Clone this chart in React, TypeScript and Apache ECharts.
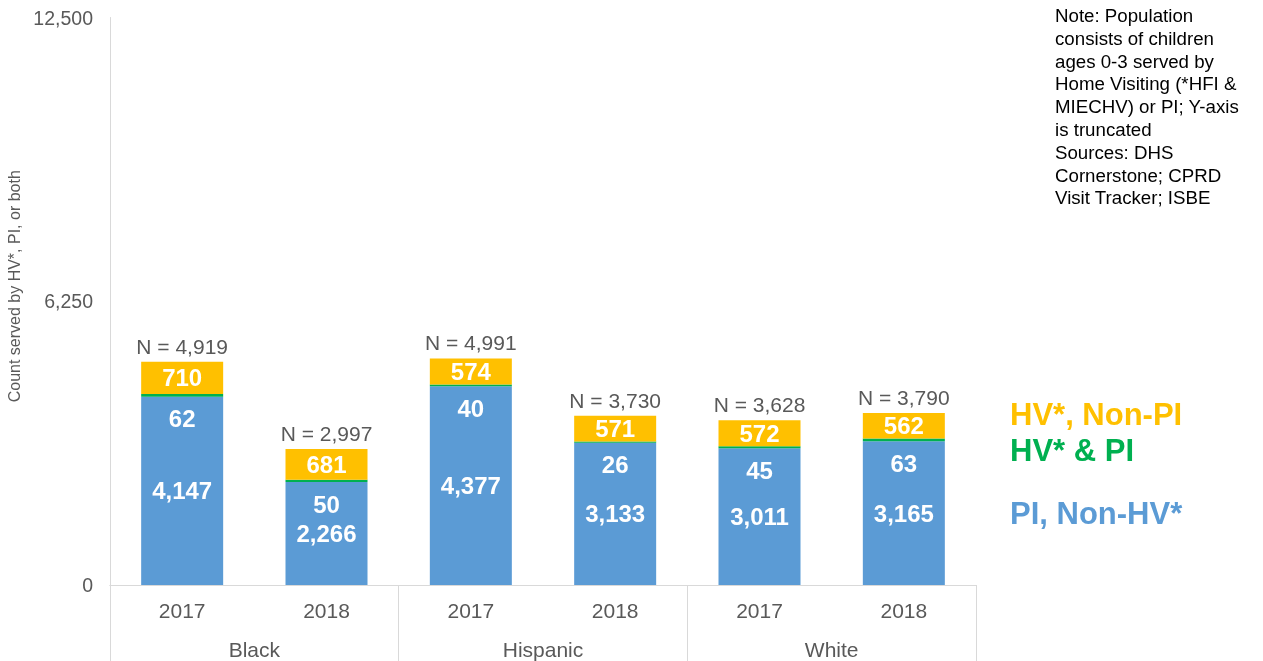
import React, { useEffect, useRef } from "react";
import * as echarts from "echarts";

const years = ["2017", "2018", "2017", "2018", "2017", "2018"];
const groups = ["Black", "Hispanic", "White"];
const piNonHV = [4147, 2266, 4377, 3133, 3011, 3165];
const hvAndPI = [62, 50, 40, 26, 45, 63];
const hvNonPI = [710, 681, 574, 571, 572, 562];
const totals = [4919, 2997, 4991, 3730, 3628, 3790];
const yTicks = [0, 6250, 12500];
const seriesNames = ["PI, Non-HV*", "HV* & PI", "HV*, Non-PI"];
const noteText =
  "Note: Population\nconsists of children\nages 0-3 served by\nHome Visiting (*HFI &\nMIECHV) or PI; Y-axis\nis truncated\nSources: DHS\nCornerstone; CPRD\nVisit Tracker; ISBE";

const FONT = "'Liberation Sans', Arial, sans-serif";
const BLUE = "#5B9BD5";
const GREEN = "#00B050";
const YELLOW = "#FFC000";
const GRAY = "#595959";
const LINE = "#D9D9D9";

const fmt = (v: number) => v.toLocaleString("en-US");

export default function App() {
  const ref = useRef<HTMLDivElement>(null);
  useEffect(() => {
    if (!ref.current) return;
    const chart = echarts.init(ref.current, undefined, { renderer: "svg" });
    const whiteLabel = {
      show: true,
      color: "#fff",
      fontWeight: "bold" as const,
      fontSize: 24,
      fontFamily: FONT,
      formatter: (p: any) => fmt(p.value),
    };
    chart.setOption({
      animation: false,
      textStyle: { fontFamily: FONT },
      grid: {
        left: 110,
        right: 287,
        top: 17.5,
        bottom: 76,
        containLabel: false,
        outerBoundsMode: "none",
      },
      xAxis: [
        {
          type: "category",
          data: years,
          position: "bottom",
          axisLine: { show: true, lineStyle: { color: LINE, width: 1 } },
          axisTick: { show: false },
          axisLabel: { color: GRAY, fontSize: 21, margin: 15, fontFamily: FONT },
        },
        {
          type: "category",
          data: groups,
          position: "bottom",
          axisLine: { show: true, lineStyle: { color: LINE, width: 1 } },
          axisTick: { show: true, length: 80, lineStyle: { color: LINE, width: 1 } },
          axisLabel: { color: GRAY, fontSize: 21, margin: 54, fontFamily: FONT },
        },
      ],
      yAxis: {
        type: "value",
        min: yTicks[0],
        max: yTicks[yTicks.length - 1],
        interval: yTicks[1] - yTicks[0],
        axisLine: { show: true, lineStyle: { color: LINE, width: 1 } },
        axisTick: { show: false },
        splitLine: { show: false },
        axisLabel: {
          color: GRAY,
          fontSize: 19.5,
          margin: 17,
          fontFamily: FONT,
          formatter: (v: number) => fmt(v),
        },
        name: "Count served by HV*, PI, or both",
        nameLocation: "middle",
        nameGap: 80,
        nameTextStyle: {
          color: GRAY,
          fontSize: 16,
          fontFamily: FONT,
          padding: [0, 0, 0, 30],
        },
      },
      series: [
        {
          name: seriesNames[0],
          type: "bar",
          stack: "total",
          barWidth: 82,
          data: piNonHV,
          itemStyle: { color: BLUE },
          label: { ...whiteLabel, position: "inside" },
        },
        {
          name: seriesNames[1],
          type: "bar",
          stack: "total",
          barWidth: 82,
          data: hvAndPI,
          itemStyle: { color: GREEN },
          label: { ...whiteLabel, position: "bottom", distance: 10 },
        },
        {
          name: seriesNames[2],
          type: "bar",
          stack: "total",
          barWidth: 82,
          data: hvNonPI,
          itemStyle: { color: YELLOW },
          label: { ...whiteLabel, position: "inside" },
        },
        {
          name: "N",
          type: "bar",
          stack: "total",
          barWidth: 82,
          data: totals.map(() => 0),
          itemStyle: { color: "transparent" },
          label: {
            show: true,
            position: "top",
            distance: 5,
            color: GRAY,
            fontSize: 21,
            fontFamily: FONT,
            formatter: (p: any) => "N = " + fmt(totals[p.dataIndex]),
          },
        },
      ],
      graphic: [
        {
          type: "text",
          left: 1055,
          top: 4,
          style: {
            text: noteText,
            fill: "#000",
            fontSize: 18.7,
            lineHeight: 22.8,
            fontFamily: FONT,
          },
        },
        {
          type: "text",
          x: 1010,
          y: 414,
          style: {
            text: seriesNames[2],
            fill: YELLOW,
            fontSize: 31,
            fontWeight: "bold",
            fontFamily: FONT,
            verticalAlign: "middle",
          },
        },
        {
          type: "text",
          x: 1010,
          y: 450,
          style: {
            text: seriesNames[1],
            fill: GREEN,
            fontSize: 31,
            fontWeight: "bold",
            fontFamily: FONT,
            verticalAlign: "middle",
          },
        },
        {
          type: "text",
          x: 1010,
          y: 513,
          style: {
            text: seriesNames[0],
            fill: BLUE,
            fontSize: 31,
            fontWeight: "bold",
            fontFamily: FONT,
            verticalAlign: "middle",
          },
        },
      ],
    });
    return () => chart.dispose();
  }, []);
  return (
    <div
      ref={ref}
      style={{ position: "fixed", left: 0, top: 0, width: 1263, height: 661 }}
    />
  );
}
